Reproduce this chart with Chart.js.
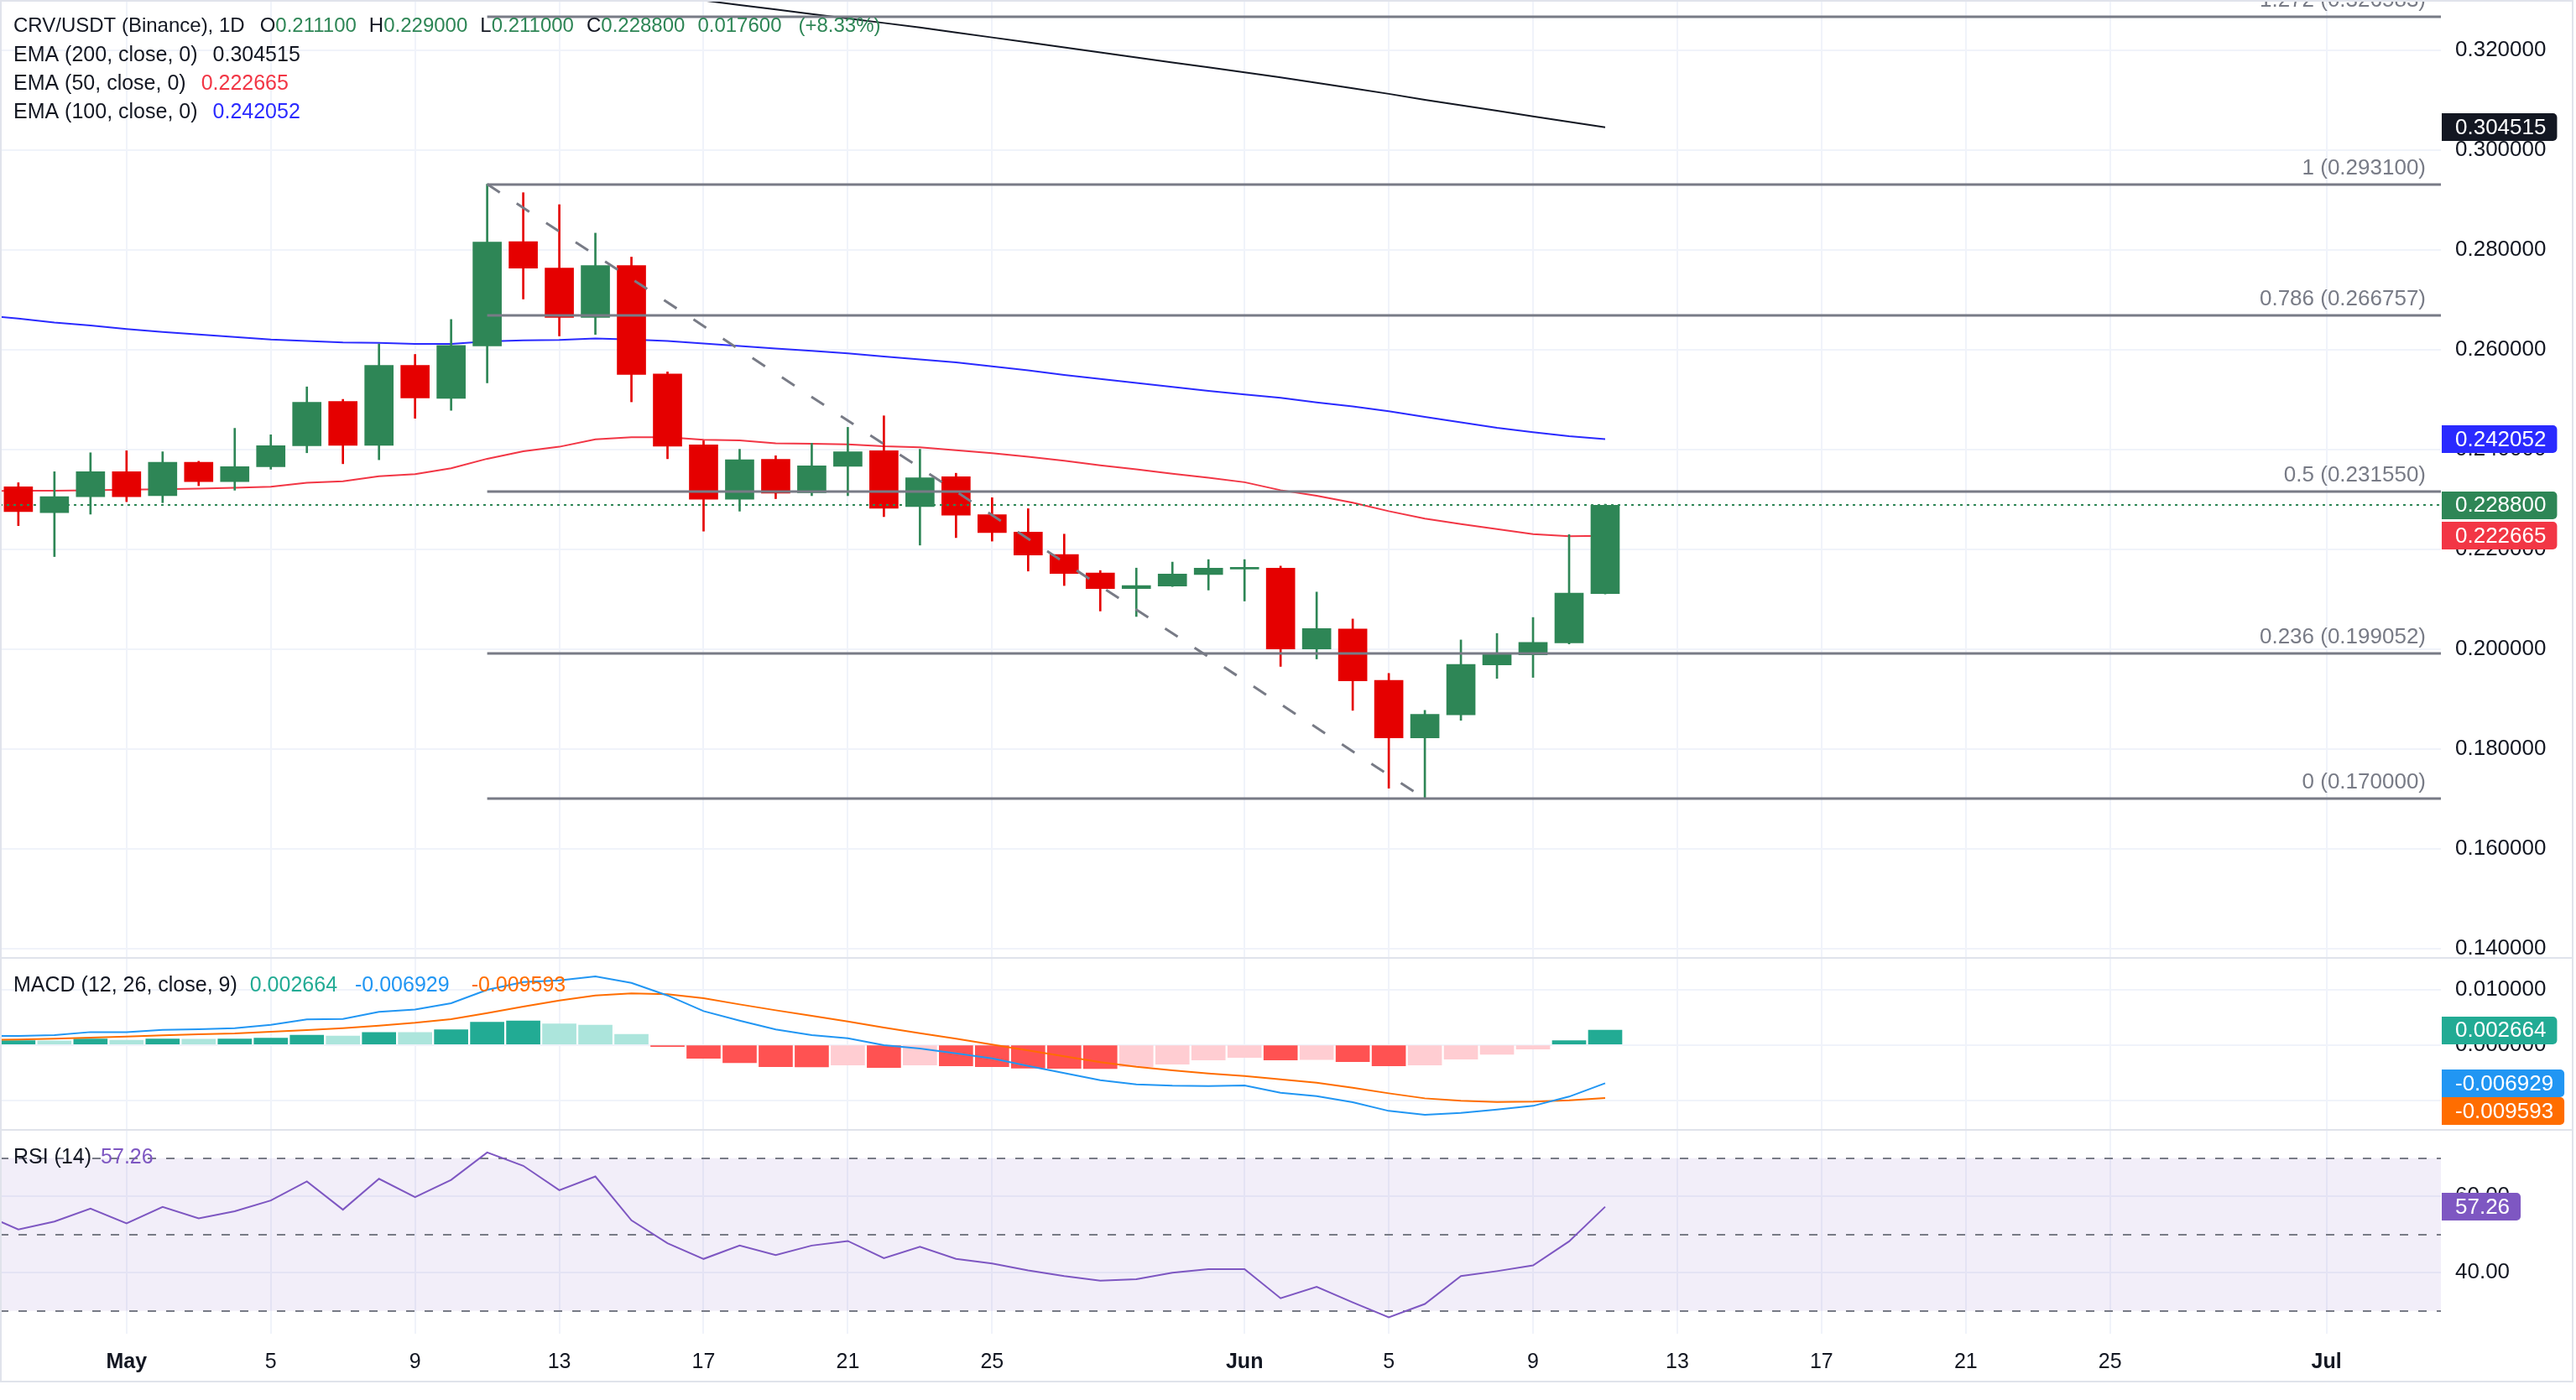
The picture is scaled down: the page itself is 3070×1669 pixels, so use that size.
<!DOCTYPE html>
<html>
<head>
<meta charset="utf-8">
<title>CRV/USDT (Binance), 1D</title>
<script src="https://cdn.jsdelivr.net/npm/chart.js@4.4.1/dist/chart.umd.min.js"></script>
<style>
  html, body { margin: 0; padding: 0; background: #ffffff; }
  #chart { display: block; }
</style>
</head>
<body>
<canvas id="chart" width="3070" height="1669"></canvas>
<script>
'use strict';

// ---- candles (daily, Apr 28 .. Jun 11) ----
var dates = [
  'Apr 28', 'Apr 29', 'Apr 30',
  'May 1', 'May 2', 'May 3', 'May 4', 'May 5', 'May 6', 'May 7', 'May 8', 'May 9', 'May 10',
  'May 11', 'May 12', 'May 13', 'May 14', 'May 15', 'May 16', 'May 17', 'May 18', 'May 19', 'May 20',
  'May 21', 'May 22', 'May 23', 'May 24', 'May 25', 'May 26', 'May 27', 'May 28', 'May 29', 'May 30', 'May 31',
  'Jun 1', 'Jun 2', 'Jun 3', 'Jun 4', 'Jun 5', 'Jun 6', 'Jun 7', 'Jun 8', 'Jun 9', 'Jun 10', 'Jun 11'
];
var CANDLE_FIRST_DAY = -3; // Apr 28, in days from May 1
var STUDY_FIRST_DAY = -4;  // indicator series start on Apr 27 (its candle is left of the view)

var open = [0.2325, 0.2273, 0.2305, 0.2355, 0.2307, 0.2374, 0.2335, 0.2365, 0.2407, 0.2496,
  0.2408, 0.2568, 0.2502, 0.2607, 0.2816, 0.2763, 0.2664, 0.2768, 0.2551, 0.2409,
  0.2300, 0.2380, 0.2313, 0.2366, 0.2397, 0.2285, 0.2345, 0.2269, 0.2234, 0.2189,
  0.2152, 0.2121, 0.2126, 0.2149, 0.2160, 0.2162, 0.2000, 0.2040, 0.1937, 0.1822,
  0.1868, 0.1968, 0.1988, 0.2012, 0.2111];
var high = [0.2333, 0.2355, 0.2393, 0.2397, 0.2395, 0.2376, 0.2442, 0.2429, 0.2525, 0.2500,
  0.2611, 0.2590, 0.2660, 0.2931, 0.2914, 0.2890, 0.2833, 0.2785, 0.2555, 0.2417,
  0.2400, 0.2387, 0.2412, 0.2444, 0.2467, 0.2400, 0.2352, 0.2303, 0.2281, 0.2230,
  0.2157, 0.2162, 0.2174, 0.2179, 0.2179, 0.2166, 0.2114, 0.2060, 0.1951, 0.1877,
  0.2018, 0.2031, 0.2063, 0.2229, 0.2290];
var low = [0.2247, 0.2185, 0.2270, 0.2295, 0.2293, 0.2327, 0.2318, 0.2360, 0.2393, 0.2371,
  0.2379, 0.2462, 0.2478, 0.2533, 0.2701, 0.2627, 0.2630, 0.2495, 0.2381, 0.2236,
  0.2276, 0.2301, 0.2307, 0.2307, 0.2265, 0.2208, 0.2223, 0.2216, 0.2156, 0.2127,
  0.2076, 0.2065, 0.2125, 0.2118, 0.2096, 0.1965, 0.1980, 0.1877, 0.1721, 0.1700,
  0.1857, 0.1941, 0.1943, 0.2010, 0.2110];
var close = [0.2275, 0.2305, 0.2355, 0.2305, 0.2374, 0.2335, 0.2365, 0.2407, 0.2494, 0.2408,
  0.2568, 0.2503, 0.2608, 0.2815, 0.2763, 0.2664, 0.2768, 0.2550, 0.2406, 0.2300,
  0.2379, 0.2312, 0.2367, 0.2395, 0.2282, 0.2343, 0.2268, 0.2233, 0.2188, 0.2151,
  0.2121, 0.2127, 0.2150, 0.2162, 0.2163, 0.2000, 0.2041, 0.1936, 0.1822, 0.1869,
  0.1969, 0.1989, 0.2013, 0.2112, 0.2288];

// ---- indicators (Apr 27 .. Jun 11) ----
var ema50 = [0.2316, 0.2317, 0.2317, 0.2318, 0.2319, 0.2320, 0.2321, 0.2323, 0.2325, 0.2333, 0.2336,
  0.2346, 0.2350, 0.2362, 0.2381, 0.2396, 0.2405, 0.2420, 0.2424, 0.2424, 0.2419,
  0.2418, 0.2412, 0.2411, 0.2410, 0.2406, 0.2404, 0.2398, 0.2392, 0.2385, 0.2377,
  0.2368, 0.2360, 0.2351, 0.2343, 0.2334, 0.2318, 0.2307, 0.2293, 0.2276, 0.2261,
  0.2250, 0.2240, 0.2230, 0.2226, 0.222665];
var ema100 = [0.2668, 0.2662, 0.2654, 0.2648, 0.2641, 0.2635, 0.2630, 0.2625, 0.2620, 0.2617, 0.2614,
  0.2613, 0.2611, 0.2611, 0.2616, 0.2618, 0.2619, 0.2622, 0.2620, 0.2617, 0.2612,
  0.2607, 0.2602, 0.2597, 0.2592, 0.2586, 0.2580, 0.2574, 0.2566, 0.2558, 0.2549,
  0.2541, 0.2533, 0.2525, 0.2517, 0.2510, 0.2503, 0.2494, 0.2486, 0.2476, 0.2465,
  0.2454, 0.2443, 0.2434, 0.2426, 0.242052];
var ema200 = [0.3465, 0.3457, 0.3449, 0.3441, 0.3433, 0.3425, 0.3417, 0.3409, 0.3401, 0.3393, 0.3385,
  0.3377, 0.3369, 0.3361, 0.3353, 0.3345, 0.3336, 0.3327, 0.3318, 0.3309, 0.3299,
  0.3290, 0.3281, 0.3272, 0.3263, 0.3254, 0.3245, 0.3235, 0.3225, 0.3215, 0.3205,
  0.3195, 0.3185, 0.3175, 0.3165, 0.3155, 0.3145, 0.3134, 0.3123, 0.3112, 0.3100,
  0.3089, 0.3078, 0.3067, 0.3056, 0.304515];

var macd = [0.00160, 0.00162, 0.00177, 0.00232, 0.00232, 0.00273, 0.00283, 0.00303, 0.00364, 0.00460, 0.00470,
  0.00596, 0.00641, 0.00753, 0.00995, 0.01136, 0.01167, 0.01237, 0.01121, 0.00894, 0.00611,
  0.00439, 0.00278, 0.00177, 0.00121, -0.00005, -0.00066, -0.00152, -0.00242, -0.00379, -0.00510,
  -0.00636, -0.00712, -0.00737, -0.00742, -0.00732, -0.00864, -0.00924, -0.01035, -0.01192, -0.01263,
  -0.01227, -0.01167, -0.01101, -0.00934, -0.006929];
var signal = [0.00088, 0.00096, 0.00111, 0.00131, 0.00152, 0.00172, 0.00192, 0.00207, 0.00237, 0.00268, 0.00303,
  0.00348, 0.00399, 0.00465, 0.00576, 0.00692, 0.00803, 0.00894, 0.00929, 0.00914, 0.00843,
  0.00732, 0.00626, 0.00525, 0.00424, 0.00313, 0.00212, 0.00111, 0.00005, -0.00101, -0.00207,
  -0.00313, -0.00394, -0.00460, -0.00515, -0.00561, -0.00621, -0.00682, -0.00773, -0.00874, -0.00965,
  -0.01010, -0.01030, -0.01025, -0.01000, -0.009593];
var hist = [0.00072, 0.00076, 0.00074, 0.00106, 0.00086, 0.00106, 0.00104, 0.00107, 0.00121, 0.00177, 0.00162,
  0.00227, 0.00224, 0.00273, 0.00409, 0.00434, 0.00379, 0.00359, 0.00192, -0.00030, -0.00242,
  -0.00323, -0.00392, -0.00396, -0.00364, -0.00409, -0.00364, -0.00379, -0.00394, -0.00419, -0.00424,
  -0.00427, -0.00394, -0.00348, -0.00273, -0.00227, -0.00273, -0.00263, -0.00303, -0.00379, -0.00364,
  -0.00258, -0.00172, -0.00076, 0.00076, 0.002664];

var rsi = [55.5, 51.3, 53.4, 56.8, 52.9, 57.2, 54.2, 56.1, 58.9, 63.9, 56.5,
  64.6, 59.8, 64.3, 71.5, 68.0, 61.6, 65.2, 53.7, 47.7, 43.6,
  47.1, 44.6, 47.1, 48.3, 43.8, 46.8, 43.6, 42.4, 40.6, 39.1,
  37.9, 38.3, 40.0, 40.9, 40.9, 33.3, 36.3, 32.2, 28.3, 31.8,
  39.1, 40.4, 41.9, 48.2, 57.26];

// ---- axes ----
var tickDays = [0, 4, 8, 12, 16, 20, 24, 31, 35, 39, 43, 47, 51, 55, 61];
var tickLabels = ['May', '5', '9', '13', '17', '21', '25', 'Jun', '5', '9', '13', '17', '21', '25', 'Jul'];
var priceTicks = [0.14, 0.16, 0.18, 0.20, 0.22, 0.24, 0.26, 0.28, 0.30, 0.32];
var macdTicks = [-0.01, 0, 0.01];
var rsiTicks = [40, 60];
var rsiLevels = [30, 50, 70];
var fibRatios = [0, 0.236, 0.5, 0.786, 1, 1.272];

// ---- style ----
var FONT = '"Liberation Sans", Arial, sans-serif';
var TEXT = '#131722';
var GRID = '#f0f3fa';
var FIB = '#787b86';
var UP = '#2e8656';
var DOWN = '#e50000';
var C_EMA50 = '#f23645';
var C_EMA100 = '#2a2aff';
var C_EMA200 = '#131722';
var C_MACD = '#2196f3';
var C_SIGNAL = '#ff6d00';
var C_HIST = '#22ab94';
var C_RSI = '#7e57c2';

var X_MIN = -3.509;
var X_MAX = 64.174;

var last = close.length - 1;
var lastStudy = rsi.length - 1;
var hiIdx = high.indexOf(Math.max.apply(null, high));
var loIdx = low.indexOf(Math.min.apply(null, low));

function xOf(i) {
  return i + CANDLE_FIRST_DAY;
}

function points(values) {
  return values.map(function(v, i) {
    return {x: i + STUDY_FIRST_DAY, y: v};
  });
}

function lastOf(values) {
  return values[values.length - 1];
}

function fibPrice(r) {
  return low[loIdx] + r * (high[hiIdx] - low[loIdx]);
}

var candleColors = close.map(function(c, i) {
  return c >= open[i] ? UP : DOWN;
});

var histColors = hist.map(function(v, i) {
  var prev = i > 0 ? hist[i - 1] : v;
  if (v >= 0) {
    return v > prev ? C_HIST : '#ace5dc';
  }
  return v < prev ? '#ff5252' : '#ffcdd2';
});

function lineSet(label, values, color, axis, order) {
  return {
    type: 'line',
    label: label,
    data: points(values),
    yAxisID: axis,
    borderColor: color,
    borderWidth: 2,
    pointRadius: 0,
    tension: 0,
    fill: false,
    order: order
  };
}

function drawParts(ctx, x, y, parts) {
  parts.forEach(function(p) {
    if (typeof p === 'number') {
      x += p;
      return;
    }
    ctx.fillStyle = p[1];
    ctx.fillText(p[0], x, y);
    x += ctx.measureText(p[0]).width;
  });
}

function badge(ctx, scale, value, text, bg, prevY) {
  var y = scale.getPixelForValue(value);
  if (prevY !== undefined && Math.abs(y - prevY) < 33) {
    y = prevY + 33;
  }
  var w = ctx.measureText(text).width + 29;
  ctx.fillStyle = bg;
  ctx.beginPath();
  ctx.roundRect(scale.left + 1, Math.round(y - 16.5), w, 33, [0, 5, 5, 0]);
  ctx.fill();
  ctx.fillStyle = '#ffffff';
  ctx.fillText(text, scale.left + 17, y + 1);
  return y;
}

var decor = {
  id: 'decor',
  beforeDatasetsDraw: function(chart) {
    var ctx = chart.ctx;
    var area = chart.chartArea;
    var r = chart.scales.yRsi;
    var top = r.getPixelForValue(rsiLevels[2]);
    var bottom = r.getPixelForValue(rsiLevels[0]);
    ctx.save();
    ctx.fillStyle = 'rgba(126, 87, 194, 0.1)';
    ctx.fillRect(area.left, top, area.right - area.left, bottom - top);
    ctx.strokeStyle = FIB;
    ctx.lineWidth = 2;
    ctx.setLineDash([10, 12]);
    rsiLevels.forEach(function(v) {
      var y = Math.round(r.getPixelForValue(v));
      ctx.beginPath();
      ctx.moveTo(area.left, y);
      ctx.lineTo(area.right, y);
      ctx.stroke();
    });
    ctx.restore();
  },
  afterDatasetsDraw: function(chart) {
    var ctx = chart.ctx;
    var area = chart.chartArea;
    var xs = chart.scales.x;
    var ys = chart.scales.y;
    var x0 = xs.getPixelForValue(xOf(hiIdx));
    ctx.save();
    ctx.beginPath();
    ctx.rect(area.left, 0, area.right - area.left, ys.bottom);
    ctx.clip();

    // fibonacci retracement levels
    ctx.strokeStyle = FIB;
    ctx.lineWidth = 3;
    ctx.font = '26px ' + FONT;
    ctx.textAlign = 'right';
    ctx.textBaseline = 'alphabetic';
    ctx.fillStyle = FIB;
    fibRatios.forEach(function(r) {
      var py = Math.round(ys.getPixelForValue(fibPrice(r)));
      ctx.beginPath();
      ctx.moveTo(x0, py);
      ctx.lineTo(area.right, py);
      ctx.stroke();
      ctx.fillText(r + ' (' + fibPrice(r).toFixed(6) + ')', area.right - 18, py - 12);
    });

    // last close
    var cy = Math.round(ys.getPixelForValue(close[last]));
    ctx.strokeStyle = UP;
    ctx.lineWidth = 2;
    ctx.setLineDash([3, 5]);
    ctx.beginPath();
    ctx.moveTo(area.left, cy);
    ctx.lineTo(area.right, cy);
    ctx.stroke();
    ctx.restore();
  },
  afterDraw: function(chart) {
    var ctx = chart.ctx;
    var sc = chart.scales;
    ctx.save();

    // pane separators and frame
    ctx.fillStyle = '#e0e3eb';
    [sc.yMacd.top, sc.yRsi.top].forEach(function(t) {
      ctx.fillRect(0, Math.round(t) - 1, chart.width - 4, 2);
    });
    ctx.strokeStyle = '#e0e3eb';
    ctx.lineWidth = 2;
    ctx.strokeRect(1, 1, chart.width - 5, 1646);

    // scale badges
    ctx.font = '26px ' + FONT;
    ctx.textAlign = 'left';
    ctx.textBaseline = 'middle';
    badge(ctx, sc.y, lastOf(ema200), lastOf(ema200).toFixed(6), C_EMA200);
    badge(ctx, sc.y, lastOf(ema100), lastOf(ema100).toFixed(6), C_EMA100);
    badge(ctx, sc.y, close[last], close[last].toFixed(6), UP);
    badge(ctx, sc.y, lastOf(ema50), lastOf(ema50).toFixed(6), C_EMA50);
    badge(ctx, sc.yMacd, hist[lastStudy], hist[lastStudy].toFixed(6), C_HIST);
    var my = badge(ctx, sc.yMacd, macd[lastStudy], macd[lastStudy].toFixed(6), C_MACD);
    badge(ctx, sc.yMacd, signal[lastStudy], signal[lastStudy].toFixed(6), C_SIGNAL, my);
    badge(ctx, sc.yRsi, rsi[lastStudy], rsi[lastStudy].toFixed(2), C_RSI);

    // pane legends
    var chg = close[last] - close[last - 1];
    var pct = chg / close[last - 1] * 100;
    ctx.font = '24px ' + FONT;
    drawParts(ctx, 16, 31, [
      ['CRV/USDT (Binance), 1D', TEXT], 18,
      ['O', TEXT], [open[last].toFixed(6), UP], 15,
      ['H', TEXT], [high[last].toFixed(6), UP], 15,
      ['L', TEXT], [low[last].toFixed(6), UP], 15,
      ['C', TEXT], [close[last].toFixed(6), UP], 15,
      [chg.toFixed(6), UP], 20,
      ['(' + (pct >= 0 ? '+' : '') + pct.toFixed(2) + '%)', UP]
    ]);
    ctx.font = '25px ' + FONT;
    drawParts(ctx, 16, 66, [['EMA (200, close, 0)', TEXT], 18, [lastOf(ema200).toFixed(6), C_EMA200]]);
    drawParts(ctx, 16, 100, [['EMA (50, close, 0)', TEXT], 18, [lastOf(ema50).toFixed(6), C_EMA50]]);
    drawParts(ctx, 16, 134, [['EMA (100, close, 0)', TEXT], 18, [lastOf(ema100).toFixed(6), C_EMA100]]);
    drawParts(ctx, 16, sc.yMacd.top + 33, [
      ['MACD (12, 26, close, 9)', TEXT], 15,
      [hist[lastStudy].toFixed(6), C_HIST], 21,
      [macd[lastStudy].toFixed(6), C_MACD], 26,
      [signal[lastStudy].toFixed(6), C_SIGNAL]
    ]);
    drawParts(ctx, 16, sc.yRsi.top + 33, [['RSI (14)', TEXT], 11, [rsi[lastStudy].toFixed(2), C_RSI]]);
    ctx.restore();
  }
};

function fixedTicks(values) {
  return function(scale) {
    scale.ticks = values.map(function(v) {
      return {value: v};
    });
  };
}

function rightAxis(weight, min, max, ticks, digits) {
  return {
    type: 'linear',
    position: 'right',
    stack: 'panes',
    stackWeight: weight,
    min: min,
    max: max,
    afterBuildTicks: fixedTicks(ticks),
    afterFit: function(scale) {
      scale.width = 157;
      scale.paddingTop = 0;
      scale.paddingBottom = 0;
    },
    grid: {color: GRID, lineWidth: 2, drawTicks: false},
    border: {display: false},
    ticks: {
      autoSkip: false,
      padding: 17,
      color: TEXT,
      font: {family: FONT, size: 26},
      callback: function(v) {
        return v.toFixed(digits);
      }
    }
  };
}

var wickData = low.map(function(l, i) {
  return {x: xOf(i), y: [l, high[i]]};
});
var bodyData = open.map(function(o, i) {
  return {x: xOf(i), y: [o, close[i]]};
});

new Chart(document.getElementById('chart').getContext('2d'), {
  type: 'bar',
  data: {
    datasets: [
      {
        type: 'line',
        label: 'Fib trend',
        data: [{x: xOf(hiIdx), y: high[hiIdx]}, {x: xOf(loIdx), y: low[loIdx]}],
        yAxisID: 'y',
        borderColor: FIB,
        borderWidth: 3,
        borderDash: [18, 24],
        pointRadius: 0,
        order: 0
      },
      {
        label: 'Body',
        data: bodyData,
        yAxisID: 'y',
        backgroundColor: candleColors,
        barThickness: 34,
        minBarLength: 2,
        grouped: false,
        order: 1
      },
      {
        label: 'Wick',
        data: wickData,
        yAxisID: 'y',
        backgroundColor: candleColors,
        barThickness: 2,
        grouped: false,
        order: 2
      },
      lineSet('EMA 50', ema50, C_EMA50, 'y', 3),
      lineSet('EMA 100', ema100, C_EMA100, 'y', 4),
      lineSet('EMA 200', ema200, C_EMA200, 'y', 5),
      lineSet('MACD', macd, C_MACD, 'yMacd', 6),
      lineSet('Signal', signal, C_SIGNAL, 'yMacd', 6),
      {
        label: 'Histogram',
        data: points(hist),
        yAxisID: 'yMacd',
        backgroundColor: histColors,
        barThickness: 40,
        grouped: false,
        order: 9
      },
      lineSet('RSI', rsi, C_RSI, 'yRsi', 7)
    ]
  },
  options: {
    responsive: false,
    animation: false,
    devicePixelRatio: 1,
    layout: {padding: {left: 0, top: 0, right: 4, bottom: 21}},
    plugins: {legend: {display: false}, tooltip: {enabled: false}},
    scales: {
      x: {
        type: 'linear',
        min: X_MIN,
        max: X_MAX,
        offset: false,
        afterBuildTicks: fixedTicks(tickDays),
        afterFit: function(scale) {
          scale.height = 58;
          scale.paddingLeft = 0;
          scale.paddingRight = 0;
        },
        grid: {color: GRID, lineWidth: 2, drawTicks: false, offset: false},
        border: {display: false},
        ticks: {
          autoSkip: false,
          maxRotation: 0,
          padding: 19,
          color: TEXT,
          font: function(c) {
            var isMonth = /^[A-Z]/.test(tickLabels[c.index] || '');
            return {family: FONT, size: 25, weight: isMonth ? 'bold' : 'normal'};
          },
          callback: function(v, i) {
            return tickLabels[i];
          }
        }
      },
      y: rightAxis(1142, 0.1381, 0.3300, priceTicks, 6),
      yMacd: rightAxis(205, -0.01535, 0.01571, macdTicks, 6),
      yRsi: rightAxis(243, 24.0, 77.4, rsiTicks, 2)
    }
  },
  plugins: [decor]
});
</script>
</body>
</html>
